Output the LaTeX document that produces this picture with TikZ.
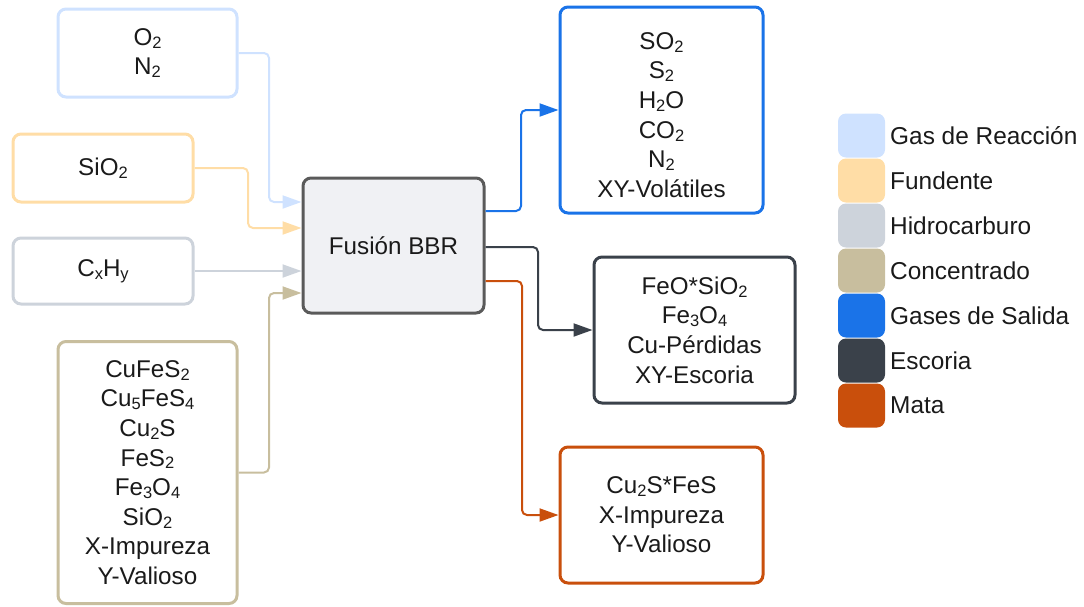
\documentclass[tikz,border=0pt]{standalone}
\usepackage{fontspec}
\setmainfont{Liberation Sans}
\usetikzlibrary{arrows.meta}

% chemical-formula subscript in the text font
\newcommand\chsub[1]{\raisebox{-0.12em}{\fontsize{16.5}{16.5}\selectfont #1}}

\definecolor{cgas}{HTML}{CFE2FF}
\definecolor{cflux}{HTML}{FFDDA6}
\definecolor{chydro}{HTML}{CDD3DB}
\definecolor{cconc}{HTML}{C8BE9E}
\definecolor{cout}{HTML}{1A73E8}
\definecolor{cslag}{HTML}{3A414A}
\definecolor{cmatte}{HTML}{C94F0C}
\definecolor{cfusfill}{HTML}{F0F1F4}
\definecolor{cfusline}{HTML}{5A5A5A}
\definecolor{ctext}{HTML}{1A1A1A}

\tikzset{
  box/.style={draw, line width=3pt, rounded corners=8pt, fill=white, inner sep=0pt,
    align=center, text=ctext, font=\fontsize{24.2}{29.6}\selectfont},
  link/.style={line width=2pt, rounded corners=5pt, -{Triangle[length=19pt,width=13pt]}},
  swatch/.style={rounded corners=8pt, minimum width=47pt, minimum height=44pt, inner sep=0pt},
  legtext/.style={anchor=west, inner sep=0pt, text=ctext, font=\fontsize{24.4}{29.6}\selectfont}
}

\begin{document}
\begin{tikzpicture}[x=1pt,y=-1pt]
\useasboundingbox (0,0) rectangle (1084,606);

% inputs
\node[box, draw=cgas, minimum width=179pt, minimum height=88pt] (o2) at (147.5,53) {O\chsub2\\N\chsub2};
\node[box, draw=cflux, minimum width=180pt, minimum height=68pt] (sio2) at (103,168) {SiO\chsub2};
\node[box, draw=chydro, minimum width=180pt, minimum height=66pt] (cxhy) at (103,271) {C\chsub{x}H\chsub{y}};
\node[box, draw=cconc, minimum width=179pt, minimum height=262pt] (conc) at (147.5,472.5)
  {CuFeS\chsub2\\Cu\chsub5FeS\chsub4\\Cu\chsub2S\\FeS\chsub2\\Fe\chsub3O\chsub4\\SiO\chsub2\\X-Impureza\\Y-Valioso};

% furnace
\node[box, draw=cfusline, fill=cfusfill, minimum width=181pt, minimum height=135pt] (fus) at (393.5,245.5) {Fusión BBR};

% outputs (the strut on the first line sets the text a little lower)
\node[box, draw=cout, minimum width=203pt, minimum height=206pt] (gas) at (661.5,110)
  {\rule{0pt}{27pt}SO\chsub2\\S\chsub2\\H\chsub2O\\CO\chsub2\\N\chsub2\\XY-Volátiles};
\node[box, draw=cslag, minimum width=201pt, minimum height=146pt] (slag) at (694.5,330)
  {FeO*SiO\chsub2\\Fe\chsub3O\chsub4\\Cu-Pérdidas\\XY-Escoria};
\node[box, draw=cmatte, minimum width=203pt, minimum height=136pt] (matte) at (661.5,515)
  {Cu\chsub2S*FeS\\X-Impureza\\Y-Valioso};

% feed connectors
\draw[link, cgas] (o2.east) -- (269,53) -- (269,202) -- (fus.west |- 0,202);
\draw[link, cflux] (sio2.east) -- (248,168) -- (248,228) -- (fus.west |- 0,228);
\draw[link, chydro] (cxhy.east) -- (fus.west |- 0,271);
\draw[link, cconc] (conc.east) -- (269,472.5) -- (269,293) -- (fus.west |- 0,293);

% product connectors
\draw[link, cout] (fus.east |- 0,211) -- (521,211) -- (521,110) -- (gas.west);
\draw[link, cslag] (fus.east |- 0,247) -- (538,247) -- (538,330) -- (slag.west);
\draw[link, cmatte] (fus.east |- 0,281) -- (522,281) -- (522,515) -- (matte.west);

% legend
\foreach \c/\t [count=\i from 0] in {cgas/Gas de Reacción, cflux/Fundente, chydro/Hidrocarburo,
    cconc/Concentrado, cout/Gases de Salida, cslag/Escoria, cmatte/Mata} {
  \node[swatch, fill=\c] (sw\i) at (861.5,135.5+45*\i) {};
  \node[legtext] (lt\i) at (890,135.5+45*\i) {\t};
}
\end{tikzpicture}
\end{document}
